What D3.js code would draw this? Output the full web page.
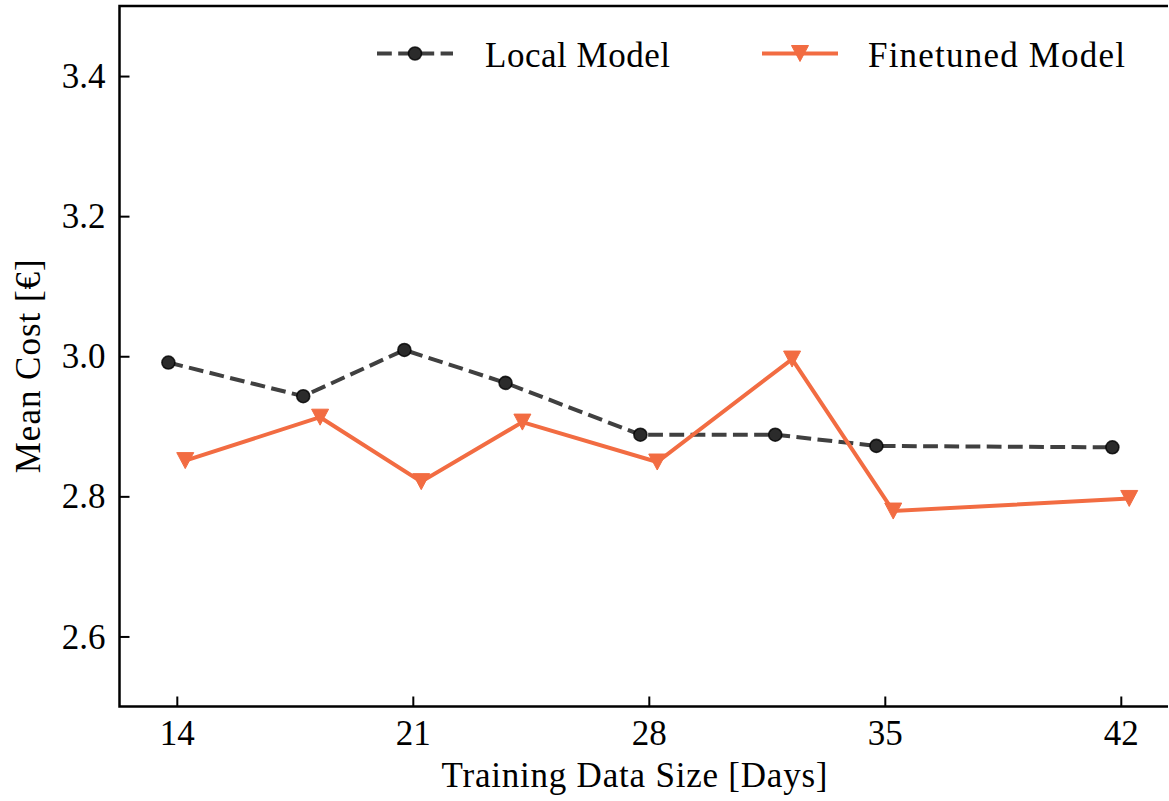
<!DOCTYPE html>
<html>
<head>
<meta charset="utf-8">
<script src="https://cdn.jsdelivr.net/npm/d3@7/dist/d3.min.js"></script>
<style>
  html, body { margin: 0; padding: 0; background: #fff; }
  svg { display: block; }
  text { font-family: "Liberation Serif", "DejaVu Serif", serif; fill: #000; }
</style>
</head>
<body>
<svg id="chart" width="1169" height="801"></svg>
<script>
// ---- data ----
const days = [14, 18, 21, 24, 28, 32, 35, 42];
const localModel = [2.991, 2.943, 3.009, 2.962, 2.888, 2.888, 2.872, 2.870];
const finetunedModel = [2.851, 2.913, 2.821, 2.906, 2.849, 2.996, 2.779, 2.797];
const xTicks = [14, 21, 28, 35, 42];
const yTicks = [2.6, 2.8, 3.0, 3.2, 3.4];
const seriesNames = ["Local Model", "Finetuned Model"];

(function () {
// ---- layout ----
const pL = 119.5, pR = 1168, pT = 6, pB = 706.5;
const svg = d3.select("#chart");

const x = d3.scaleLinear().domain([12.3, 43.4]).range([pL, pR]);
const y = d3.scaleLinear().domain([2.5, 3.5]).range([pB, pT]);

const dodge = 0.25;
const localColor = "#404040";
const fineColor = "#f26c42";

// ---- axes ----
const xAxis = d3.axisBottom(x).tickValues(xTicks).tickFormat(d3.format("d"))
  .tickSizeInner(-10).tickSizeOuter(0).tickPadding(14);
const yAxis = d3.axisLeft(y).tickValues(yTicks).tickFormat(d3.format(".1f"))
  .tickSizeInner(-10).tickSizeOuter(0).tickPadding(14);

const gx = svg.append("g").attr("transform", `translate(0,${pB})`).call(xAxis);
const gy = svg.append("g").attr("transform", `translate(${pL},0)`).call(yAxis);
[gx, gy].forEach(g => {
  g.select(".domain").remove();
  g.selectAll(".tick line").attr("stroke", "#000").attr("stroke-width", 2);
  g.selectAll(".tick text").style("font-size", "35px").style("font-family", "'Liberation Serif', serif").attr("fill", "#000");
});
gx.selectAll(".tick text").attr("dy", "0.71em").attr("y", 14);
gy.selectAll(".tick text").attr("x", -14).attr("dy", "0.33em");

// spines (left, bottom, top)
svg.append("path")
  .attr("d", `M${pR},${pT}H${pL}V${pB}H${pR}`)
  .attr("fill", "none").attr("stroke", "#000").attr("stroke-width", 2.5);

// axis labels
svg.append("text").attr("x", 634.5).attr("y", 787).attr("text-anchor", "middle")
  .attr("textLength", 386).attr("lengthAdjust", "spacing")
  .style("font-size", "35px").text("Training Data Size [Days]");
svg.append("text").attr("transform", `translate(40,${(pT + pB) / 2 + 10}) rotate(-90)`)
  .attr("text-anchor", "middle").attr("textLength", 214).attr("lengthAdjust", "spacing")
  .style("font-size", "35px").text("Mean Cost [€]");

// ---- series ----
const localPts = days.map((d, i) => [x(d - dodge), y(localModel[i])]);
const finePts = days.map((d, i) => [x(d + dodge), y(finetunedModel[i])]);
const line = d3.line();

svg.append("path").attr("d", line(localPts)).attr("fill", "none")
  .attr("stroke", localColor).attr("stroke-width", 4).attr("stroke-dasharray", "14.8,6.4");
svg.append("path").attr("d", line(finePts)).attr("fill", "none")
  .attr("stroke", fineColor).attr("stroke-width", 4).attr("stroke-linejoin", "miter");

function circleMarker(g, cx, cy) {
  g.append("circle").attr("cx", cx).attr("cy", cy).attr("r", 6.5)
    .attr("fill", "#2b2b2b").attr("stroke", "#000").attr("stroke-opacity", 0.8).attr("stroke-width", 1.6);
}
function triMarker(g, cx, cy) {
  const hw = 8.5, hh = 8;
  g.append("path").attr("d", `M${cx},${cy + hh}L${cx - hw},${cy - hh}L${cx + hw},${cy - hh}Z`)
    .attr("fill", fineColor).attr("stroke", fineColor).attr("stroke-width", 1);
}
const mk = svg.append("g");
localPts.forEach(p => circleMarker(mk, p[0], p[1]));
finePts.forEach(p => triMarker(mk, p[0], p[1]));

// ---- legend ----
const leg = svg.append("g");
const legY = 53.5;
leg.append("line").attr("x1", 377).attr("x2", 453).attr("y1", legY).attr("y2", legY)
  .attr("stroke", localColor).attr("stroke-width", 4).attr("stroke-dasharray", "14.8,6.4");
circleMarker(leg, 415, legY);
leg.append("text").attr("x", 485).attr("y", legY + 13).style("font-size", "35px")
  .attr("textLength", 185).attr("lengthAdjust", "spacing").text(seriesNames[0]);

leg.append("line").attr("x1", 762).attr("x2", 838).attr("y1", legY).attr("y2", legY)
  .attr("stroke", fineColor).attr("stroke-width", 4);
triMarker(leg, 800, legY);
leg.append("text").attr("x", 868).attr("y", legY + 13).style("font-size", "35px")
  .attr("textLength", 257).attr("lengthAdjust", "spacing").text(seriesNames[1]);
})();
</script>
</body>
</html>
